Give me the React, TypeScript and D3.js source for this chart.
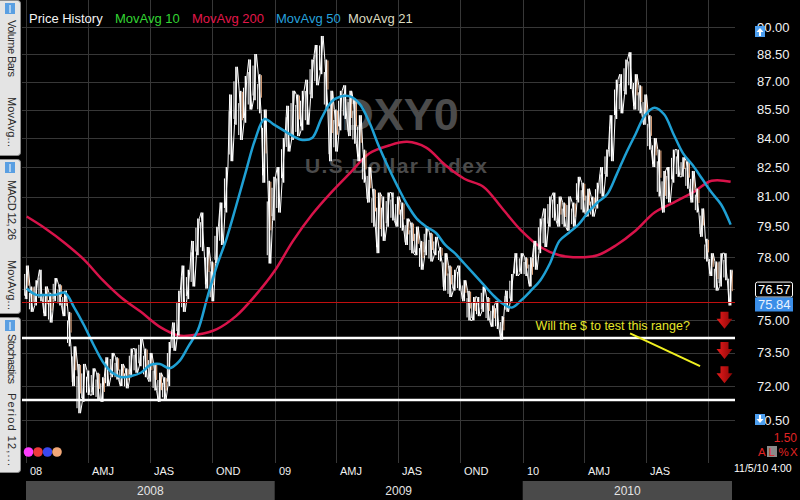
import React, { useRef, useEffect } from "react";
import * as d3 from "d3";

const width = 800;
const height = 500;

// weekly high / low of DXY, first week = week of Jan 2 2008
const weeklyHigh = [
  77.6, 76.6, 76.9, 77.4, 76.6, 76.3, 77.0, 76.7, 76.4, 75.4,
  73.8, 73.0, 73.0, 72.7, 72.8, 72.6, 72.4, 73.3, 73.5, 73.3,
  73.0, 72.8, 73.7, 73.7, 74.2, 73.7, 73.5, 73.0, 72.6, 72.4,
  74.0, 74.9, 76.4, 77.6, 77.4, 78.8, 79.9, 80.2, 78.5, 77.8,
  79.5, 80.7, 82.5, 86.3, 87.8, 86.5, 87.3, 88.2, 88.5, 87.4,
  85.5, 81.8, 82.0, 82.5, 84.0, 85.7, 86.5, 86.3, 86.5, 87.1,
  88.2, 89.0, 89.5, 88.2, 86.5, 85.5, 86.5, 86.8, 86.5, 86.0,
  85.2, 83.4, 82.5, 81.4, 81.2, 81.0, 81.2, 81.2, 81.0, 80.7,
  79.9, 79.7, 79.5, 78.8, 79.5, 79.2, 79.0, 78.5, 78.2, 77.6,
  77.4, 77.6, 76.9, 76.4, 76.1, 76.1, 76.6, 76.1, 75.7, 75.9,
  75.2, 76.4, 77.2, 78.2, 78.2, 78.0, 78.0, 78.8, 79.9, 80.4,
  81.0, 81.2, 81.0, 80.7, 81.0, 80.7, 82.0, 81.7, 81.4, 81.0,
  81.7, 82.5, 83.4, 85.2, 87.1, 87.4, 88.2, 88.6, 87.4, 86.8,
  86.3, 85.2, 84.0, 83.4, 82.3, 82.5, 83.4, 83.4, 83.0, 82.8,
  82.3, 81.4, 80.4, 78.9, 78.2, 77.8, 78.2, 78.2, 77.4,
];
const weeklyLow = [
  76.0, 75.4, 75.7, 75.9, 75.2, 74.9, 75.9, 75.7, 75.2, 73.8,
  72.0, 70.8, 71.3, 71.6, 71.6, 71.4, 71.3, 72.0, 72.4, 72.3,
  72.0, 71.9, 72.4, 72.6, 72.9, 72.4, 72.2, 71.8, 71.3, 71.4,
  72.0, 73.6, 74.3, 75.4, 76.0, 76.6, 78.1, 78.3, 76.5, 75.9,
  77.7, 78.6, 80.2, 82.8, 84.7, 83.9, 84.8, 85.5, 86.0, 85.3,
  81.7, 77.7, 79.8, 80.2, 81.7, 83.3, 83.9, 84.1, 84.4, 84.7,
  86.1, 86.8, 87.4, 85.5, 82.8, 83.3, 84.4, 85.0, 84.1, 83.7,
  82.8, 81.7, 80.7, 79.5, 78.2, 78.8, 79.5, 79.8, 79.5, 79.3,
  78.6, 78.2, 78.1, 77.4, 78.1, 77.8, 78.1, 77.8, 76.4, 76.1,
  76.4, 76.4, 75.9, 75.0, 75.0, 75.2, 75.4, 75.0, 74.7, 74.6,
  74.1, 75.4, 75.9, 77.1, 77.2, 77.1, 76.6, 77.4, 78.2, 78.5,
  79.5, 79.8, 79.5, 79.5, 79.3, 79.5, 80.7, 80.2, 80.0, 80.0,
  80.4, 81.0, 82.0, 82.8, 85.0, 85.3, 86.3, 86.6, 85.5, 85.3,
  84.7, 83.4, 82.5, 81.0, 80.2, 80.7, 81.7, 82.0, 82.0, 81.4,
  80.7, 80.2, 79.0, 77.8, 77.1, 76.4, 76.6, 76.9, 75.7,
];

// MovAvg 200, one value every 4 weeks
const movAvg200 = [
  80.0, 79.4, 78.7, 77.9, 76.9, 76.05, 75.4, 74.7, 74.3, 74.35,
  74.6, 75.2, 76.15, 77.3, 78.8, 80.1, 81.2, 82.2, 83.2, 83.6,
  83.8, 83.5, 82.6, 81.9, 81.5, 80.4, 79.3, 78.5, 78.1, 78.0,
  78.1, 78.6, 79.3, 80.2, 80.7, 81.2, 81.8, 81.75,
];
// MovAvg 50, one value every 2 weeks
const movAvg50 = [
  76.5, 76.2, 76.2, 76.2, 76.3, 75.6, 74.8, 73.9, 73.1, 72.6,
  72.4, 72.45, 72.6, 72.95, 73.0, 72.8, 73.1, 73.8, 74.55, 76.1,
  77.6, 78.9, 80.5, 82.2, 83.9, 85.0, 84.7, 84.4, 84.1, 83.9,
  84.0, 85.05, 85.9, 86.2, 86.2, 85.8, 84.85, 83.6, 82.5, 81.5,
  80.6, 79.9, 79.5, 79.2, 78.6, 78.2, 77.7, 77.2, 76.7, 76.2,
  75.8, 75.6, 75.95, 76.4, 76.9, 77.7, 78.8, 79.2, 79.6, 80.2,
  80.7, 81.1, 82.1, 83.2, 84.2, 85.2, 85.6, 85.25, 84.2, 83.2,
  82.6, 81.9, 81.2, 80.6, 79.6,
];

const priceTicks = [70.5, 72, 73.5, 75, 76.5, 78, 79.5, 81, 82.5, 84, 85.5, 87, 88.5, 90];
const hiddenTicks = [76.5];
const quarterStarts = [
  "2008-01-01", "2008-04-01", "2008-07-01", "2008-10-01",
  "2009-01-01", "2009-04-01", "2009-07-01", "2009-10-01",
  "2010-01-01", "2010-04-01", "2010-07-01", "2010-10-01",
];
const quarterLabels = ["08", "AMJ", "JAS", "OND", "09", "AMJ", "JAS", "OND", "10", "AMJ", "JAS", ""];
const years = [
  { label: "2008", start: "2008-01-01", end: "2009-01-01", shaded: true },
  { label: "2009", start: "2009-01-01", end: "2010-01-01", shaded: false },
  { label: "2010", start: "2010-01-01", end: "2010-11-05", shaded: true },
];
const legendItems = [
  { label: "Price History", color: "#f4f4f4", x: 29 },
  { label: "MovAvg 10", color: "#33d633", x: 115 },
  { label: "MovAvg 200", color: "#e3174b", x: 192 },
  { label: "MovAvg 50", color: "#27a2dc", x: 276 },
  { label: "MovAvg 21", color: "#dcdcc0", x: 348 },
];
const supportLevels = [74.18, 71.38];
const lastPrice = 75.84;
const cursorPrice = 76.57;
const arrowLevels = [75.4, 74.0, 72.9];
const note = { text: "Will the $ to test this range?", date: "2010-01-20", value: 74.55 };
const pointer = [
  { date: "2010-06-08", value: 74.4 },
  { date: "2010-09-19", value: 72.9 },
];
const sideTabs = [
  { top: 0, bottom: 155, labels: [["Volume Bars", 20, 57], ["MovAvg...", 97, 50]] },
  { top: 159, bottom: 313, labels: [["MACD 12, 26", 180, 60], ["MovAvg...", 260, 50]] },
  { top: 317, bottom: 472, labels: [["Stochastics", 334, 50], ["Period 12,...", 393, 73]] },
];
const dotColors = ["#ff3cff", "#ee3a3a", "#3a48f0", "#f2a878"];

const parse = d3.timeParse("%Y-%m-%d");

const App: React.FC = () => {
  const svgRef = useRef<SVGSVGElement | null>(null);

  useEffect(() => {
    if (!svgRef.current) return;
    const svg = d3.select(svgRef.current);
    svg.selectAll("*").remove();

    const x = d3
      .scaleTime()
      .domain([new Date(2008, 0, 1), new Date(2010, 10, 5)])
      .range([26, 732]);
    const y = d3.scaleLog().domain([70.5, 90]).range([420, 27]);
    const firstWeek = new Date(2008, 0, 2);
    const weekDate = (i: number) => d3.timeDay.offset(firstWeek, 7 * i);
    const font = "Liberation Sans, Arial, sans-serif";

    svg.append("rect").attr("width", width).attr("height", height).attr("fill", "#000");

    // grid
    const grid = svg.append("g").attr("stroke", "#373737").attr("stroke-width", 1);
    grid
      .selectAll("line.h")
      .data(priceTicks)
      .join("line")
      .attr("x1", 22)
      .attr("x2", 735)
      .attr("y1", (d) => Math.round(y(d)) + 0.5)
      .attr("y2", (d) => Math.round(y(d)) + 0.5);
    grid
      .selectAll("line.v")
      .data(quarterStarts)
      .join("line")
      .attr("x1", (d) => Math.round(x(parse(d)!)) + 0.5)
      .attr("x2", (d) => Math.round(x(parse(d)!)) + 0.5)
      .attr("y1", 0)
      .attr("y2", 463);

    // watermark
    svg
      .append("text")
      .attr("x", 400)
      .attr("y", 130)
      .attr("text-anchor", "middle")
      .attr("font-family", font)
      .attr("font-weight", "bold")
      .attr("font-size", 45)
      .attr("fill", "#4b4b4b")
      .text("DXY0");
    svg
      .append("text")
      .attr("x", 396)
      .attr("y", 173)
      .attr("text-anchor", "middle")
      .attr("font-family", font)
      .attr("font-weight", "bold")
      .attr("font-size", 21)
      .attr("textLength", 182)
      .attr("fill", "#4b4b4b")
      .text("U.S.Dollar Index");

    // moving averages
    const ma200Line = d3
      .line<number>()
      .x((_, i) => x(weekDate(i * 4)))
      .y((d) => y(d))
      .curve(d3.curveCatmullRom);
    const ma50Line = d3
      .line<number>()
      .x((_, i) => x(weekDate(i * 2)))
      .y((d) => y(d))
      .curve(d3.curveCatmullRom);

    svg
      .append("path")
      .datum(movAvg200)
      .attr("fill", "none")
      .attr("stroke", "#d8134a")
      .attr("stroke-width", 2.5)
      .attr("d", ma200Line);

    // price history: thin high-low bars joined by a zigzag trace
    const bars = svg.append("g");
    const zig: [number, number][] = [];
    weeklyHigh.forEach((hi, i) => {
      const lo = weeklyLow[i];
      const cx = x(weekDate(i));
      if (i % 2 === 0) {
        zig.push([cx - 1.5, y(lo)], [cx + 1.5, y(hi)]);
      } else {
        zig.push([cx - 1.5, y(hi)], [cx + 1.5, y(lo)]);
      }
      bars
        .append("line")
        .attr("x1", cx)
        .attr("x2", cx)
        .attr("y1", y(hi))
        .attr("y2", y(lo))
        .attr("stroke", "#ffffff")
        .attr("stroke-width", 1.6);
      bars
        .append("line")
        .attr("x1", cx - 2)
        .attr("x2", cx - 2)
        .attr("y1", y(hi) + (y(lo) - y(hi)) * 0.25)
        .attr("y2", y(lo) - (y(lo) - y(hi)) * 0.1)
        .attr("stroke", "#ffffff")
        .attr("stroke-width", 1);
      const prevMid = i > 0 ? (weeklyHigh[i - 1] + weeklyLow[i - 1]) / 2 : hi;
      if ((hi + lo) / 2 < prevMid) {
        bars
          .append("line")
          .attr("x1", cx + 1.6)
          .attr("x2", cx + 1.6)
          .attr("y1", y(hi) + 1)
          .attr("y2", y(hi) + (y(lo) - y(hi)) * 0.6)
          .attr("stroke", "#f2b185")
          .attr("stroke-width", 1);
      }
    });
    bars
      .append("path")
      .datum(zig)
      .attr("fill", "none")
      .attr("stroke", "#ffffff")
      .attr("stroke-width", 1)
      .attr("d", d3.line());

    svg
      .append("path")
      .datum(movAvg50)
      .attr("fill", "none")
      .attr("stroke", "#1fa0d4")
      .attr("stroke-width", 2.5)
      .attr("d", ma50Line);

    // last price line
    svg
      .append("line")
      .attr("x1", 22)
      .attr("x2", 735)
      .attr("y1", y(lastPrice))
      .attr("y2", y(lastPrice))
      .attr("stroke", "#c41010")
      .attr("stroke-width", 1);

    // support lines
    svg
      .selectAll("line.support")
      .data(supportLevels)
      .join("line")
      .attr("x1", 22)
      .attr("x2", 735)
      .attr("y1", (d) => y(d))
      .attr("y2", (d) => y(d))
      .attr("stroke", "#ffffff")
      .attr("stroke-width", 2.5);

    // annotation
    svg
      .append("text")
      .attr("x", x(parse(note.date)!))
      .attr("y", y(note.value))
      .attr("font-family", font)
      .attr("font-size", 12.5)
      .attr("fill", "#e6e62a")
      .text(note.text);
    svg
      .append("line")
      .attr("x1", x(parse(pointer[0].date)!))
      .attr("y1", y(pointer[0].value))
      .attr("x2", x(parse(pointer[1].date)!))
      .attr("y2", y(pointer[1].value))
      .attr("stroke", "#f0f020")
      .attr("stroke-width", 2);

    // red arrows
    const grad = svg
      .append("defs")
      .append("linearGradient")
      .attr("id", "arrowGrad")
      .attr("x1", "0%")
      .attr("x2", "100%");
    grad.append("stop").attr("offset", "0%").attr("stop-color", "#e81c1c");
    grad.append("stop").attr("offset", "100%").attr("stop-color", "#8c0606");
    const ax = 724.5;
    svg
      .selectAll("path.arrow")
      .data(arrowLevels)
      .join("path")
      .attr("d", (d) => {
        const t = y(d);
        return `M${ax - 4},${t}L${ax + 4},${t}L${ax + 4},${t + 7}L${ax + 8},${t + 7}L${ax},${t + 17}L${ax - 8},${t + 7}L${ax - 4},${t + 7}Z`;
      })
      .attr("fill", "url(#arrowGrad)");

    // x axis labels
    svg
      .selectAll("text.q")
      .data(quarterStarts)
      .join("text")
      .attr("x", (d) => Math.round(x(parse(d)!)) + 4)
      .attr("y", 475)
      .attr("font-family", font)
      .attr("font-size", 11)
      .attr("fill", "#f0f0f0")
      .text((_, i) => quarterLabels[i]);

    // year band
    const yb = svg.append("g");
    years.forEach((yr) => {
      const x0 = x(parse(yr.start)!);
      const x1 = x(parse(yr.end)!);
      if (yr.shaded) {
        yb.append("rect").attr("x", x0).attr("y", 481).attr("width", x1 - x0).attr("height", 19).attr("fill", "#4a4a4a");
      }
      yb.append("text")
        .attr("x", (x0 + x1) / 2)
        .attr("y", 495)
        .attr("text-anchor", "middle")
        .attr("font-family", font)
        .attr("font-size", 12)
        .attr("fill", "#e4e4e4")
        .text(yr.label);
    });

    // right axis
    svg
      .selectAll("text.tick")
      .data(priceTicks.filter((d) => !hiddenTicks.includes(d)))
      .join("text")
      .attr("x", 757)
      .attr("y", (d) => y(d) + 4.5)
      .attr("font-family", font)
      .attr("font-size", 13)
      .attr("fill", "#f2f2f2")
      .text((d) => d.toFixed(2));

    // price boxes
    const b1 = y(cursorPrice) - 5;
    svg.append("rect").attr("x", 755.5).attr("y", b1).attr("width", 37).attr("height", 15).attr("rx", 2)
      .attr("fill", "#000").attr("stroke", "#ffffff").attr("stroke-width", 1);
    svg.append("text").attr("x", 758).attr("y", b1 + 12).attr("font-family", font).attr("font-size", 13)
      .attr("fill", "#ffffff").text(cursorPrice.toFixed(2));
    const b2 = y(lastPrice) - 5;
    svg.append("rect").attr("x", 755).attr("y", b2).attr("width", 38).attr("height", 14).attr("fill", "#3b8ee8");
    svg.append("text").attr("x", 758).attr("y", b2 + 12).attr("font-family", font).attr("font-size", 13)
      .attr("fill", "#e8f2ff").text(lastPrice.toFixed(2));

    // scroll icons on the axis
    const icon = (top: number, up: boolean) => {
      svg.append("rect").attr("x", 755).attr("y", top).attr("width", 10).attr("height", 11).attr("fill", "#4d9ff0");
      const p = up
        ? `M760,${top + 2}L763.5,${top + 6}L761,${top + 6}L761,${top + 10}L759,${top + 10}L759,${top + 6}L756.5,${top + 6}Z`
        : `M760,${top + 9}L763.5,${top + 5}L761,${top + 5}L761,${top + 1}L759,${top + 1}L759,${top + 5}L756.5,${top + 5}Z`;
      svg.append("path").attr("d", p).attr("fill", "#ffffff");
    };
    icon(26, true);
    icon(414, false);

    // A L % X controls
    svg.append("text").attr("x", 797).attr("y", 442).attr("text-anchor", "end").attr("font-family", font)
      .attr("font-size", 12).attr("fill", "#e02424").text("1.50");
    svg.append("rect").attr("x", 767).attr("y", 446).attr("width", 10).attr("height", 11).attr("fill", "#8a8a8a");
    [["A", 758], ["L", 768.5], ["%", 778.5], ["X", 790]].forEach(([t, px]) => {
      svg.append("text").attr("x", px as number).attr("y", 456).attr("font-family", font).attr("font-size", 11.5)
        .attr("fill", "#e02424").text(t as string);
    });
    svg.append("text").attr("x", 734).attr("y", 472).attr("font-family", font).attr("font-size", 10.5)
      .attr("fill", "#ffffff").text("11/5/10 4:00");

    // legend
    svg
      .selectAll("text.legend")
      .data(legendItems)
      .join("text")
      .attr("x", (d) => d.x)
      .attr("y", 23)
      .attr("font-family", font)
      .attr("font-size", 13)
      .attr("fill", (d) => d.color)
      .text((d) => d.label);

    // left tabs
    sideTabs.forEach((tab) => {
      const g = svg.append("g");
      g.append("rect")
        .attr("x", -4)
        .attr("y", tab.top + 0.5)
        .attr("width", 24.5)
        .attr("height", tab.bottom - tab.top)
        .attr("rx", 3)
        .attr("fill", "#e4e4e4")
        .attr("stroke", "#8c8c8c");
      g.append("rect").attr("x", 5).attr("y", tab.top + 3).attr("width", 10).attr("height", 11).attr("fill", "#5a9fe2");
      g.append("line").attr("x1", 10).attr("x2", 10).attr("y1", tab.top + 5).attr("y2", tab.top + 13)
        .attr("stroke", "#ffffff").attr("stroke-width", 1);
      tab.labels.forEach(([t, pos, len]) => {
        g.append("text")
          .attr("transform", `translate(11.5,${pos}) rotate(90)`)
          .attr("dominant-baseline", "central")
          .attr("font-family", font)
          .attr("font-size", 11)
          .attr("textLength", len as number)
          .attr("fill", "#2a2a2a")
          .text(t as string);
      });
    });

    // colour dots
    svg
      .selectAll("circle.dot")
      .data(dotColors)
      .join("circle")
      .attr("cx", (_, i) => 28.5 + i * 9.5)
      .attr("cy", 452)
      .attr("r", 4.8)
      .attr("fill", (d) => d);
  }, []);

  return (
    <svg
      ref={svgRef}
      width={width}
      height={height}
      style={{ position: "fixed", left: 0, top: 0, background: "#000" }}
    />
  );
};

export default App;
